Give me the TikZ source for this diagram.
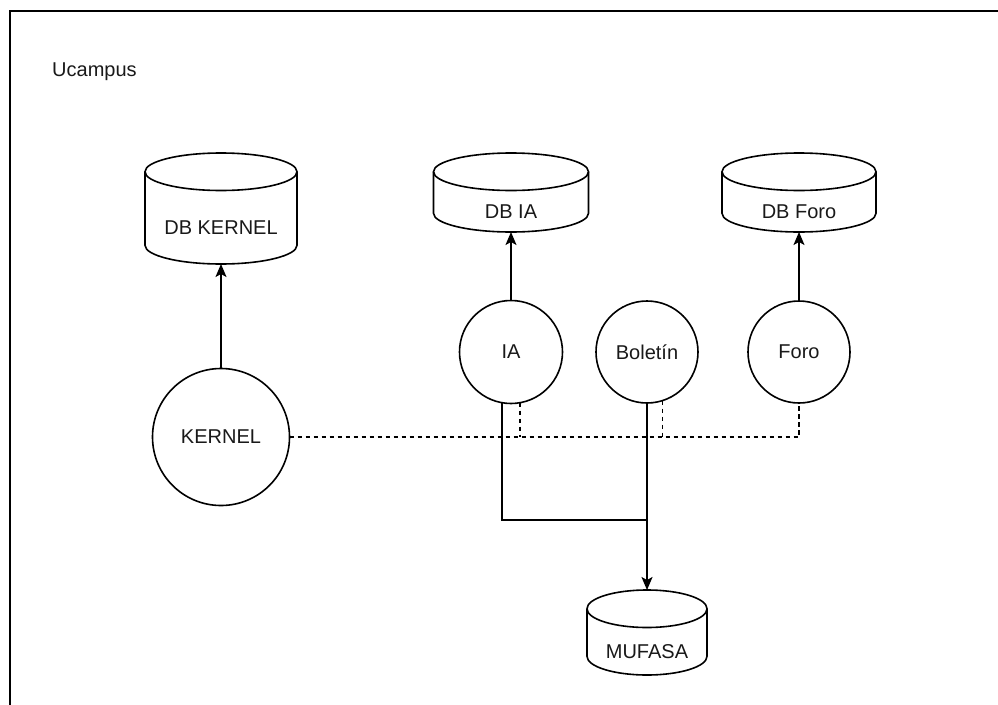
\documentclass[tikz,border=0pt]{standalone}
\usepackage{fontspec}
\setmainfont{Liberation Sans}
\usetikzlibrary{calc,arrows.meta}
\def\cdy{18.75}
\tikzset{
  ln/.style={line width=1.6pt, draw=black},
  lbl/.style={font=\fontsize{20}{22}\selectfont, text=black!90, inner sep=0pt},
  cylbox/.style={rectangle, inner sep=0pt, outer sep=0pt},
  circ/.style={circle, ln, inner sep=0pt, outer sep=0pt, text=black!90, font=\fontsize{20}{22}\selectfont},
  arr/.style={ln, -{Stealth[length=13pt, width=11pt, inset=3pt]}},
  dsh/.style={ln, line width=1.4pt, dash pattern=on 4.5pt off 3.5pt},
}
\newcommand{\mycyl}[6]{%
  \node[cylbox, minimum width=#4pt, minimum height=#5pt, anchor=north] (#1) at (#2,#3) {};
  \draw[ln] ($(#1.north west)+(0,\cdy)$) -- ($(#1.south west)+(0,-\cdy)$)
     arc[start angle=180, end angle=360, x radius=#4pt/2, y radius=\cdy pt]
     -- ($(#1.north east)+(0,\cdy)$);
  \draw[ln] ($(#1.north)+(0,\cdy)$) ellipse [x radius=#4pt/2, y radius=\cdy pt];
  \node[lbl] (#1-t) at ($(#1.center)+(0,\cdy)$) {#6};
}
\begin{document}
\begin{tikzpicture}[x=1pt, y=-1pt]
\useasboundingbox (0,0) rectangle (998,704);
% frame (extends past the page)
\draw[ln, line width=1.8pt] (10,720) -- (10,11) -- (1010,11);
\node[lbl, anchor=west] (title) at (52,72) {Ucampus};

% databases
\mycyl{dbk}{221}{153}{152}{111}{DB KERNEL}
\mycyl{dbia}{511}{153}{155}{79}{DB IA}
\mycyl{dbforo}{799}{153}{154}{79}{DB Foro}
\mycyl{mufasa}{647}{590}{120}{85}{MUFASA}

% services
\node[circ, minimum size=137pt] (kernel) at (221,437) {KERNEL};
\node[circ, minimum size=103pt] (ia) at (511,352) {IA};
\node[circ, minimum size=102pt] (bol) at (647,352) {Boletín};
\node[circ, minimum size=102pt] (foro) at (799,352) {Foro};

% arrows to databases
\draw[arr] (kernel.north) -- (dbk.south);
\draw[arr] (ia.north) -- (dbia.south);
\draw[arr] (foro.north) -- (dbforo.south);

% solid links to MUFASA
\coordinate (junc) at (647,520);
\draw[ln] (ia.260) |- (junc);
\draw[arr] (bol.south) -- (mufasa.north);

% dashed links from KERNEL
\draw[dsh] (kernel.east) -| (foro.south);
\draw[dsh] (ia.280) -- (ia.280 |- kernel.east);
\draw[dsh] (bol.288) -- (bol.288 |- kernel.east);
\end{tikzpicture}
\end{document}
